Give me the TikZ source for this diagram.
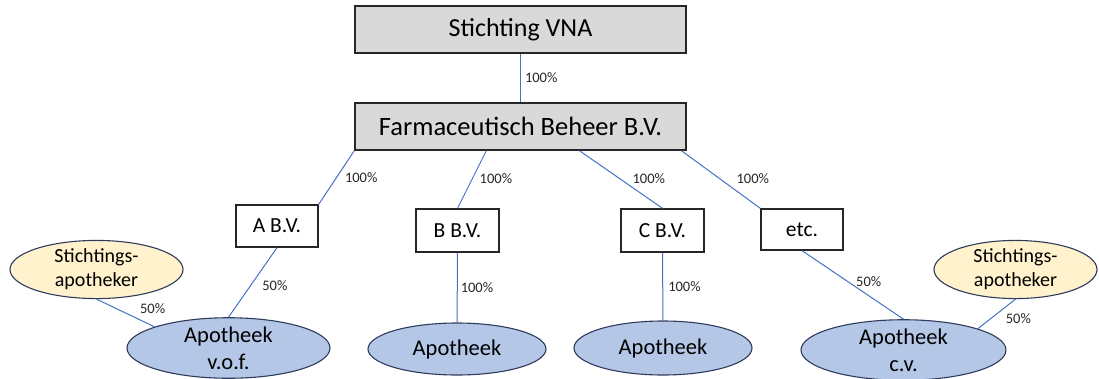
\documentclass[tikz,border=0pt]{standalone}
\usepackage{fontspec}
\setmainfont{Carlito}
\usepackage{xcolor}
\definecolor{lijn}{HTML}{4472C4}
\definecolor{grijs}{HTML}{D9D9D9}
\definecolor{lichtblauw}{HTML}{B4C7E7}
\definecolor{rand}{HTML}{2F3B5C}
\definecolor{geel}{HTML}{FFF2CC}
\tikzset{
	box/.style={draw=black!85,line width=1.3pt,inner sep=0pt,align=center},
	apo/.style={ellipse,draw=rand,fill=lichtblauw,line width=1.1pt,inner sep=0pt,align=center,font=\fontsize{22.5}{27}\selectfont},
	sap/.style={ellipse,draw=rand,fill=geel,line width=1.1pt,inner sep=0pt,align=center,font=\fontsize{20}{24}\selectfont},
	pct/.style={text=black!85,font=\fontsize{14.5}{16}\selectfont,inner sep=0pt,anchor=west},
}
\usetikzlibrary{shapes.geometric}
\begin{document}
\begin{tikzpicture}[x=1pt,y=-1pt]
	\useasboundingbox (0,0) rectangle (1099,378);
	% bovenste laag
	\node[box,fill=grijs,minimum width=331,minimum height=47,font=\fontsize{26}{30}\selectfont] (vna) at (520.5,29.5) {Stichting VNA};
	\node[box,fill=grijs,minimum width=331,minimum height=47,font=\fontsize{26.5}{30}\selectfont] (farm) at (520.5,126.5) {Farmaceutisch Beheer B.V.};
	% dochters
	\node[box,minimum width=82,minimum height=42,font=\fontsize{21.5}{25}\selectfont] (abv) at (277,226) {A B.V.};
	\node[box,minimum width=83,minimum height=43,font=\fontsize{21.5}{25}\selectfont] (bbv) at (457.5,230.5) {B B.V.};
	\node[box,minimum width=83,minimum height=43,font=\fontsize{21.5}{25}\selectfont] (cbv) at (662.5,230.5) {C B.V.};
	\node[box,minimum width=82,minimum height=41,font=\fontsize{21.5}{25}\selectfont] (etc) at (802,229.5) {etc.};
	% apotheken
	\node[sap,minimum width=173,minimum height=55] (sa1) at (96.5,269.5) {Stichtings-\\apotheker};
	\node[sap,minimum width=163,minimum height=55] (sa2) at (1015.5,269.5) {Stichtings-\\apotheker};
	\node[apo,minimum width=203,minimum height=54] (vof) at (228.5,348) {Apotheek\\v.o.f.};
	\node[apo,minimum width=178,minimum height=52] (apb) at (457,349) {Apotheek};
	\node[apo,minimum width=178,minimum height=54] (apc) at (663,348) {Apotheek};
	\node[apo,minimum width=205,minimum height=54] (cv) at (903.5,350) {Apotheek\\c.v.};
	% lijnen
	\draw[color=lijn,line width=1pt] (vna) -- (farm) node[pct,pos=0.5,xshift=4] (p1) {100\%};
	\draw[color=lijn,line width=1pt] (farm.south west) -- (abv.north east) node[pct,pos=0.5,xshift=8] (p2) {100\%};
	\draw[color=lijn,line width=1pt] ([xshift=132]farm.south west) -- (bbv.north) node[pct,pos=0.49,xshift=7] (p3) {100\%};
	\draw[color=lijn,line width=1pt] ([xshift=225]farm.south west) -- (cbv.north) node[pct,pos=0.49,xshift=12] (p4) {100\%};
	\draw[color=lijn,line width=1pt] ([xshift=327]farm.south west) -- (etc.north west) node[pct,pos=0.49,xshift=16] (p5) {100\%};
	\draw[color=lijn,line width=1pt] (abv.south) -- (vof.north) node[pct,pos=0.54,xshift=11] (p6) {50\%};
	\draw[color=lijn,line width=1pt] (bbv) -- (apb) node[pct,pos=0.5,xshift=3] (p7) {100\%};
	\draw[color=lijn,line width=1pt] (cbv) -- (apc) node[pct,pos=0.5,xshift=5] (p8) {100\%};
	\draw[color=lijn,line width=1pt] (etc.south) -- (cv.north) node[pct,pos=0.45,xshift=8] (p9) {50\%};
	\draw[color=lijn,line width=1pt] (sa1.south) -- (vof.164) node[pct,pos=0.33,xshift=24] (p10) {50\%};
	\draw[color=lijn,line width=1pt] (sa2.south) -- (cv.16) node[pct,pos=0.67,xshift=15] (p11) {50\%};
\end{tikzpicture}
\end{document}
